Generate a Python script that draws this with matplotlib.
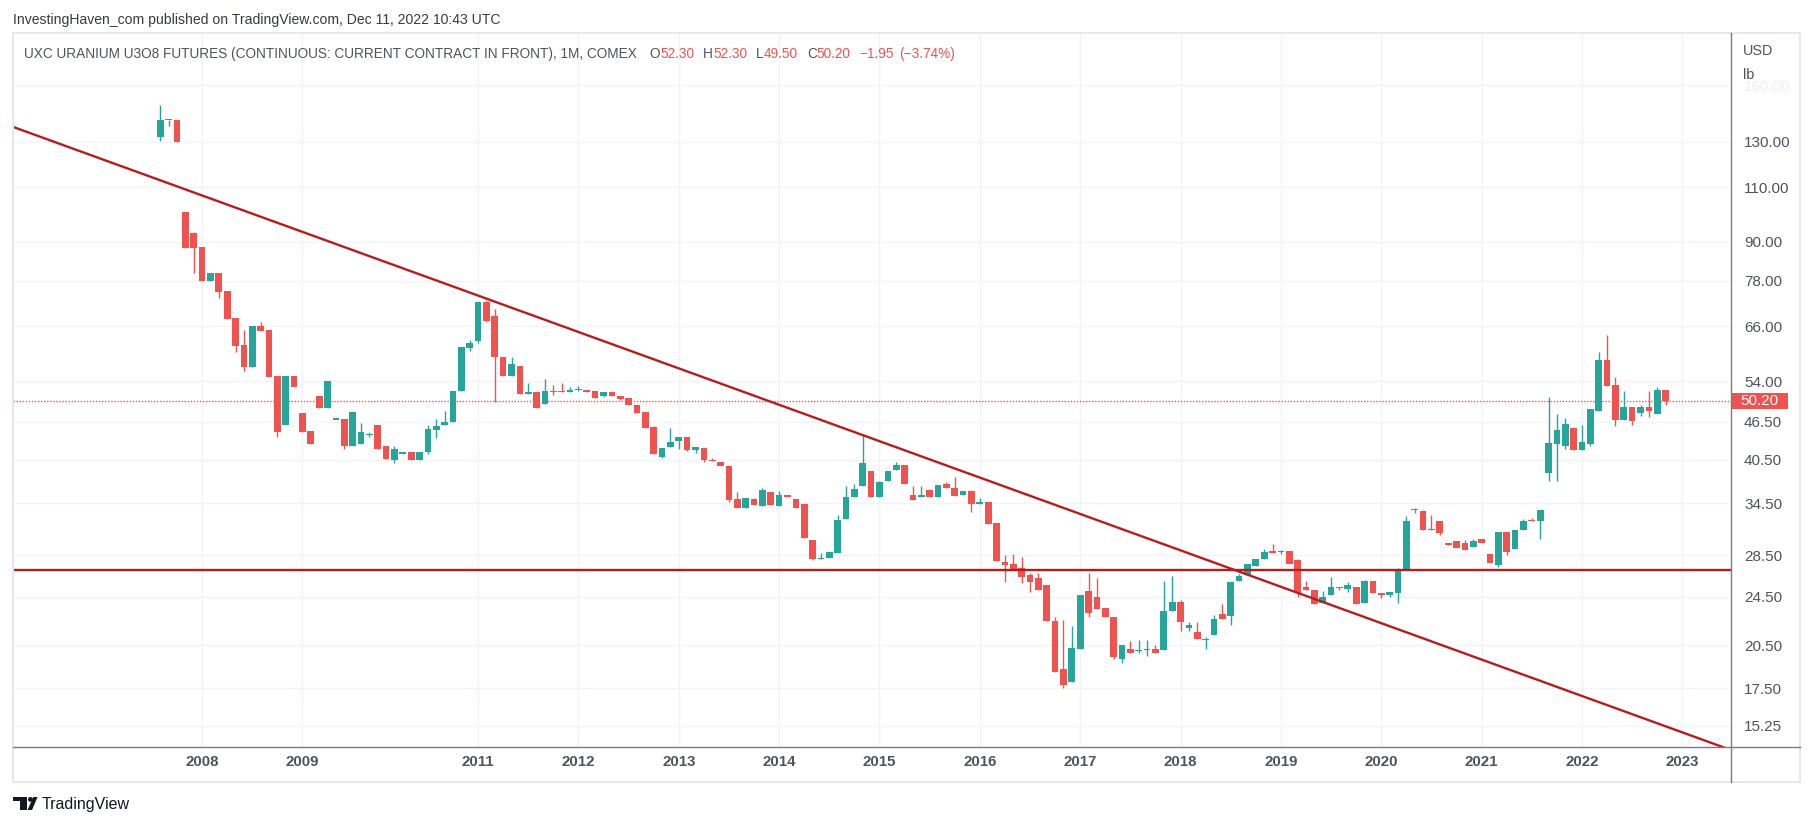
import numpy as np
import matplotlib
matplotlib.use('Agg')
import matplotlib.pyplot as plt
from matplotlib.patches import Rectangle, Ellipse, Polygon
from matplotlib.lines import Line2D

plt.rcParams['font.family'] = ['Liberation Sans', 'DejaVu Sans']

# Monthly UX1! candles, Aug 2007 - Dec 2022 (feed skips a few months in 2009/10)
opens = [132.4, 140.6, 140.8, 100.4, 92.9, 88.3, 78.0, 80.3, 75.2, 68.0,
         61.6, 56.9, 66.1, 65.1, 55.0, 45.9, 55.0, 48.0, 44.9, 51.1,
         49.0, 46.9, 47.0, 42.6, 42.9, 44.3, 46.0, 42.5, 40.4, 41.3,
         41.7, 40.5, 41.6, 45.1, 45.9, 46.4, 52.0, 61.0, 62.6, 72.2,
         68.6, 59.0, 55.0, 57.1, 51.6, 51.9, 49.6, 52.1, 52.1, 51.8,
         52.3, 52.3, 52.1, 51.2, 51.9, 51.2, 50.8, 49.5, 48.3, 45.6,
         40.9, 42.4, 43.3, 44.0, 41.9, 42.2, 40.5, 40.2, 39.5, 35.0,
         33.9, 35.1, 34.2, 35.9, 34.2, 35.6, 35.1, 34.4, 30.1, 28.15,
         28.2, 28.7, 32.6, 35.3, 36.7, 38.9, 35.3, 37.4, 39.0, 39.7,
         35.6, 35.3, 36.2, 35.3, 37.0, 36.5, 35.5, 36.1, 34.4, 34.7,
         32.1, 27.8, 27.6, 27.2, 26.5, 26.2, 25.6, 22.4, 18.8, 17.9,
         20.2, 25.0, 24.5, 23.5, 22.7, 19.5, 20.2, 20.05, 20.1, 20.2,
         20.1, 23.2, 24.0, 21.8, 21.5, 20.9, 21.3, 23.0, 22.8, 25.9,
         26.5, 27.4, 28.1, 29.0, 28.85, 29.0, 28.0, 25.4, 25.1, 23.9,
         24.6, 25.4, 25.2, 25.4, 23.9, 25.9, 24.8, 24.6, 24.8, 27.0,
         33.8, 33.5, 31.4, 32.3, 29.8, 30.0, 29.8, 29.4, 30.3, 28.6,
         27.5, 31.1, 29.2, 31.3, 32.5, 32.3, 38.6, 42.9, 42.5, 45.4,
         41.9, 42.9, 48.4, 58.4, 53.2, 46.8, 49.1, 48.0, 49.1, 47.9,
         52.3]
highs = [148.7, 140.8, 140.8, 100.4, 93.2, 88.3, 80.3, 80.3, 75.2, 68.0,
         65.1, 66.1, 67.1, 65.1, 55.0, 55.0, 55.0, 48.0, 44.9, 51.1,
         54.0, 46.9, 47.0, 48.2, 46.3, 44.8, 46.0, 42.5, 42.6, 41.7,
         41.7, 41.7, 45.9, 47.0, 48.4, 52.1, 61.2, 62.8, 72.2, 72.7,
         70.3, 59.0, 59.0, 57.1, 53.7, 51.9, 54.4, 53.3, 53.6, 52.8,
         53.0, 52.3, 52.1, 51.9, 52.1, 51.2, 50.8, 49.5, 48.3, 45.8,
         42.2, 45.4, 44.0, 44.0, 42.4, 42.2, 40.7, 40.2, 39.5, 35.9,
         35.2, 35.2, 36.5, 35.9, 36.1, 35.6, 35.1, 34.4, 30.1, 28.7,
         28.8, 33.0, 36.7, 37.0, 44.5, 38.9, 37.5, 38.9, 40.2, 39.7,
         36.7, 36.7, 36.4, 36.9, 37.3, 38.0, 36.1, 36.2, 35.2, 34.7,
         32.1, 28.5, 28.6, 28.3, 26.7, 26.7, 25.6, 22.7, 22.5, 22.0,
         24.6, 26.7, 26.2, 23.5, 22.7, 20.5, 20.8, 20.9, 20.9, 20.5,
         25.9, 26.4, 24.2, 22.3, 22.3, 21.1, 22.9, 23.8, 25.8, 26.6,
         27.6, 28.1, 29.2, 29.7, 29.1, 29.0, 28.1, 25.9, 25.1, 25.0,
         26.3, 25.4, 25.8, 25.4, 26.0, 25.9, 24.8, 24.9, 27.2, 32.9,
         33.9, 33.6, 33.0, 32.3, 29.8, 30.0, 30.1, 30.3, 30.3, 28.6,
         31.1, 31.1, 31.3, 32.6, 32.7, 33.7, 50.9, 47.9, 47.1, 45.4,
         45.9, 48.8, 60.1, 64.0, 54.8, 52.1, 49.1, 49.5, 52.1, 52.8,
         52.3]
lows = [130.5, 137.9, 130.0, 88.1, 80.4, 78.0, 78.0, 73.3, 67.9, 60.2,
        56.1, 56.9, 64.9, 54.9, 44.0, 45.9, 52.9, 44.8, 42.9, 49.0,
        49.0, 46.9, 42.1, 42.6, 42.9, 44.0, 42.1, 40.6, 40.0, 41.3,
        40.4, 40.5, 41.3, 43.8, 45.9, 46.4, 52.0, 60.4, 62.2, 67.1,
        50.0, 55.0, 55.0, 51.6, 51.6, 49.0, 49.6, 51.4, 51.8, 51.8,
        52.1, 51.9, 50.7, 50.9, 51.1, 50.4, 49.4, 48.0, 45.5, 41.4,
        40.7, 42.4, 42.1, 41.75, 41.5, 40.1, 40.3, 39.6, 34.6, 33.9,
        33.9, 34.3, 34.2, 34.3, 34.2, 35.3, 33.9, 30.4, 28.0, 28.15,
        28.2, 28.7, 32.6, 35.3, 36.7, 35.3, 35.3, 37.4, 39.0, 37.0,
        34.9, 35.3, 35.3, 35.3, 36.5, 35.4, 35.5, 33.4, 34.4, 32.0,
        27.9, 25.8, 27.0, 25.7, 24.9, 25.1, 22.4, 18.6, 17.5, 17.9,
        20.2, 22.7, 23.4, 22.7, 19.5, 19.2, 19.9, 19.9, 19.7, 19.9,
        20.1, 23.2, 21.6, 21.6, 21.0, 20.2, 21.3, 22.6, 22.1, 25.9,
        26.5, 27.4, 28.1, 28.7, 28.65, 27.6, 24.5, 25.1, 23.8, 23.9,
        24.6, 25.1, 24.9, 23.8, 23.9, 24.8, 24.4, 24.5, 23.9, 27.0,
        33.3, 31.3, 31.3, 30.7, 29.6, 29.3, 29.1, 29.4, 29.8, 27.7,
        27.3, 28.5, 29.2, 31.3, 32.3, 30.3, 37.5, 37.5, 42.1, 41.9,
        41.9, 42.6, 48.4, 53.0, 45.8, 46.8, 45.9, 47.6, 47.4, 47.8,
        49.5]
closes = [140.8, 140.7, 130.0, 88.1, 88.1, 78.0, 80.3, 75.0, 67.9, 61.5,
          56.9, 66.1, 64.9, 54.9, 44.8, 55.0, 52.9, 44.8, 42.9, 49.0,
          54.0, 46.9, 42.6, 48.2, 44.8, 44.3, 42.1, 40.6, 42.1, 41.7,
          40.4, 41.7, 45.3, 45.8, 46.5, 52.1, 61.2, 62.0, 72.2, 67.4,
          58.9, 55.0, 57.5, 51.6, 51.9, 49.0, 52.1, 51.9, 51.8, 52.3,
          52.3, 51.9, 50.7, 51.9, 51.1, 50.6, 49.4, 48.0, 45.5, 41.4,
          42.2, 43.2, 44.0, 41.9, 42.4, 40.4, 40.3, 39.6, 34.9, 33.9,
          35.2, 34.3, 36.2, 34.3, 35.6, 35.3, 33.9, 30.4, 28.1, 28.25,
          28.8, 32.4, 35.3, 36.4, 40.0, 35.3, 37.3, 38.9, 39.7, 37.0,
          34.9, 35.6, 35.3, 36.9, 36.5, 35.4, 36.1, 34.4, 34.7, 32.0,
          27.9, 27.5, 27.0, 26.3, 25.8, 25.1, 22.4, 18.6, 17.7, 20.3,
          24.6, 23.1, 23.4, 22.7, 19.6, 20.5, 19.9, 20.1, 20.2, 19.9,
          23.2, 24.0, 22.3, 22.1, 21.0, 20.9, 22.6, 22.6, 25.8, 26.4,
          27.6, 28.1, 28.9, 28.7, 28.9, 27.6, 24.8, 25.1, 23.8, 24.5,
          25.4, 25.25, 25.6, 23.8, 25.9, 24.8, 24.6, 24.9, 26.9, 32.3,
          33.6, 31.3, 31.3, 30.9, 29.6, 29.3, 29.1, 30.0, 29.8, 27.7,
          31.1, 28.9, 31.3, 32.3, 32.3, 33.7, 43.0, 45.1, 46.2, 41.9,
          43.2, 48.8, 58.4, 53.0, 46.8, 49.1, 46.6, 49.1, 48.4, 52.3,
          50.2]

# time axis: bar index where each year starts (no 2010 label on the chart)
year_bars = [5, 17, 38, 50, 62, 74, 86, 98, 110, 122, 134, 146, 158, 170, 182]
year_labels = ['2008', '2009', '2011', '2012', '2013', '2014', '2015', '2016',
               '2017', '2018', '2019', '2020', '2021', '2022', '2023']
price_ticks = [15.25, 17.5, 20.5, 24.5, 28.5, 34.5, 40.5, 46.5, 54, 66, 78, 90,
               110, 130, 160]

last_price = 50.20
support_level = 27.05
trend_start = (39, 73.1)   # 2011 high
trend_end = (84, 44.3)     # late 2014 high

header = 'InvestingHaven_com published on TradingView.com, Dec 11, 2022 10:43 UTC'
title = 'UXC URANIUM U3O8 FUTURES (CONTINUOUS: CURRENT CONTRACT IN FRONT), 1M, COMEX'

GREEN = '#26a69a'
RED = '#ef5350'
LINE_RED = '#b71c1c'
GRID = '#f0f3fa'
TXT = '#50535e'

W, H = 1814, 826


def fx(px):
    return px / W


def fy(py):
    return 1 - py / H


fig = plt.figure(figsize=(W / 100, H / 100), dpi=100)
fig.patch.set_facecolor('white')

ax = fig.add_axes([fx(12.5), fy(747.3), fx(1731) - fx(12.5), fy(33.3) - fy(747.3)])
ax.set_yscale('log')
ax.set_ylim(14.09, 193.5)
ax.set_xlim(-17.67, 187.82)

# candles
o = np.array(opens)
h = np.array(highs)
l = np.array(lows)
c = np.array(closes)
idx = np.arange(len(o))
cols = np.where(c >= o, GREEN, RED)
ax.vlines(idx, l, h, colors=cols, lw=1.0, zorder=2)
body_lo = np.minimum(o, c)
body_hi = np.maximum(np.maximum(o, c), body_lo * 1.004)
ax.bar(idx, body_hi - body_lo, bottom=body_lo, width=0.8, color=cols,
       linewidth=0, zorder=3)

# trend lines
ax.axline(trend_start, trend_end, color=LINE_RED, lw=1.7, zorder=4)
ax.axhline(support_level, color=LINE_RED, lw=1.7, zorder=4)
ax.axhline(last_price, color=RED, lw=1.0, ls=(0, (1, 1.2)), zorder=1)

# axes / grid
ax.yaxis.tick_right()
ax.set_yticks(price_ticks)
ax.yaxis.set_minor_locator(matplotlib.ticker.NullLocator())
ax.set_yticklabels(['%.2f' % v for v in price_ticks])
ax.set_xticks(year_bars)
ax.set_xticklabels(year_labels)
ax.tick_params(axis='y', length=0, pad=9.4, labelsize=11.0, labelcolor=TXT)
ax.tick_params(axis='x', length=0, pad=5.5, labelsize=10.8, labelcolor=TXT)
ax.get_yticklabels()[-1].set_color('#eceef2')  # top label is faded under the unit text
for lab in ax.get_xticklabels():
    lab.set_fontweight('bold')
ax.grid(True, color=GRID, lw=1, zorder=0)
ax.set_axisbelow(True)
for s in ax.spines.values():
    s.set_visible(False)

# frame and scale lines
fig.add_artist(Rectangle((fx(12.5), fy(781.7)), fx(1800) - fx(12.5), fy(33.3) - fy(781.7),
                         transform=fig.transFigure, fill=False, ec='#e6e8ee', lw=1.5))
fig.add_artist(Line2D([fx(1731), fx(1731)], [fy(33.3), fy(781.7)],
                      transform=fig.transFigure, color='#787b86', lw=1))
fig.add_artist(Line2D([fx(12.5), fx(1800)], [fy(747.3), fy(747.3)],
                      transform=fig.transFigure, color='#787b86', lw=1))

# last price tag
y_last = ax.transData.transform((0, last_price))[1] / H
fig.add_artist(Rectangle((fx(1731), y_last - 8.3 / H), 57 / W, 16.6 / H,
                         transform=fig.transFigure, fc=RED, ec='none'))
fig.text(fx(1759.5), y_last, '%.2f' % last_price, color='white', fontsize=11.0,
         ha='center', va='center')

fig.text(fx(1743), fy(51), 'USD', color=TXT, fontsize=10.4, va='center')
fig.text(fx(1743), fy(75), 'lb', color=TXT, fontsize=10.4, va='center')

# header + legend line
fig.text(fx(13), fy(20), header, color='#363a45', fontsize=10.1, va='center')

renderer = fig.canvas.get_renderer()
pieces = [(title, TXT, 0), ('O', TXT, 13), ('52.30', RED, 0), ('H', TXT, 9),
          ('52.30', RED, 0), ('L', TXT, 9), ('49.50', RED, 0), ('C', TXT, 9),
          ('50.20', RED, 0), ('\u22121.95', RED, 9), ('(\u22123.74%)', RED, 5)]
xpos = 24
for txt, col, gap in pieces:
    xpos += gap
    t = fig.text(fx(xpos), fy(54), txt, color=col, fontsize=9.8, va='center')
    xpos = t.get_window_extent(renderer).x1

# TradingView mark
logo = '#131722'
fig.add_artist(Rectangle((fx(12.7), fy(801.3)), 14 / W, 4.3 / H,
                         transform=fig.transFigure, fc=logo, ec='none'))
fig.add_artist(Rectangle((fx(19.6), fy(810)), 7.1 / W, 13 / H,
                         transform=fig.transFigure, fc=logo, ec='none'))
fig.add_artist(Ellipse((fx(30.4), fy(799.4)), 4.8 / W, 4.8 / H,
                       transform=fig.transFigure, fc=logo, ec='none'))
fig.add_artist(Polygon([(fx(33.2), fy(797)), (fx(37.6), fy(797)),
                        (fx(32.0), fy(810)), (fx(27.6), fy(810))],
                       closed=True, transform=fig.transFigure, fc=logo, ec='none'))
fig.text(fx(41.7), fy(805), 'TradingView', color=logo, fontsize=11.5, va='center')

fig.savefig('out.png', dpi=100)
